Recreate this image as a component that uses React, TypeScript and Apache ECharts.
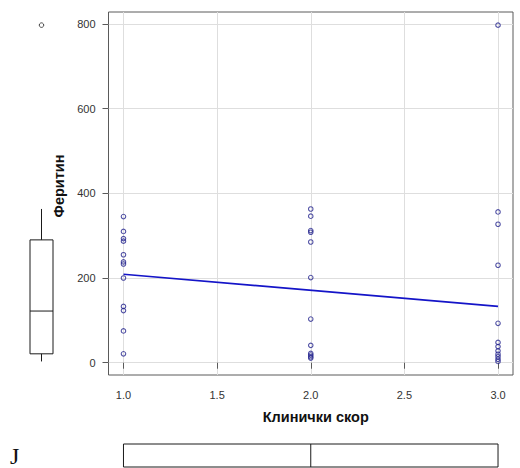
import React, { useEffect, useRef } from "react";
import * as echarts from "echarts";

// ---- data ----
const scoreLevels = [1, 2, 3];
const ferritinScore1 = [345, 310, 293, 287, 255, 238, 233, 200, 133, 123, 75, 21];
const ferritinScore2 = [363, 346, 312, 308, 285, 201, 103, 41, 22, 18, 14, 11];
const ferritinScore3 = [797, 356, 327, 230, 93, 48, 38, 28, 20, 14, 8, 3];
const fitX = [1, 3];
const fitY = [209, 133];
const xTicks = [1.0, 1.5, 2.0, 2.5, 3.0];
const yTicks = [0, 200, 400, 600, 800];
// min, q1, median, q3, max
const ferritinBoxStats = [3, 21, 122, 290, 363];
const ferritinOutliers = [797];
const scoreBoxStats = [1, 1, 2, 3, 3];
const xAxisTitle = "Клинички скор";
const yAxisTitle = "Феритин";
const panelLetter = "J";

const FONT = "'Liberation Sans', Arial, sans-serif";

export default function App() {
  const ref = useRef<HTMLDivElement>(null);

  useEffect(() => {
    if (!ref.current) return;
    const chart = echarts.init(ref.current, null, { renderer: "svg" });

    const groups = [ferritinScore1, ferritinScore2, ferritinScore3];
    const scatterData: number[][] = [];
    scoreLevels.forEach((s, i) => groups[i].forEach((v) => scatterData.push([s, v])));

    const boxStroke = { stroke: "#1a1a1a", fill: "none", lineWidth: 1 };

    const option: any = {
      animation: false,
      backgroundColor: "#ffffff",
      grid: [
        { left: 108.5, top: 12, width: 404.5, height: 363, show: true, borderColor: "#5a5a5a", borderWidth: 1, backgroundColor: "transparent" },
        { left: 20, top: 12, width: 43, height: 363, show: false },
        { left: 108.5, top: 444, width: 404.5, height: 23, show: false },
      ],
      xAxis: [
        {
          gridIndex: 0,
          type: "value",
          min: 0.92,
          max: 3.08,
          name: xAxisTitle,
          nameLocation: "middle",
          nameGap: 34,
          nameTextStyle: { fontFamily: FONT, fontSize: 14.5, fontWeight: "bold", color: "#111", padding: [0, 0, 0, 10] },
          axisLine: { show: false },
          axisTick: { show: true, inside: false, length: 6, lineStyle: { color: "#5a5a5a" }, customValues: xTicks },
          axisLabel: {
            customValues: xTicks,
            margin: 14,
            fontFamily: FONT,
            fontSize: 11,
            color: "#333",
            formatter: (v: number) => v.toFixed(1),
          },
          splitLine: { show: true, lineStyle: { color: "#dedede", width: 1 } },
        },
        { gridIndex: 1, type: "value", min: 0, max: 2, show: false },
        { gridIndex: 2, type: "value", min: 0.92, max: 3.08, show: false },
      ],
      yAxis: [
        {
          gridIndex: 0,
          type: "value",
          min: -29,
          max: 828,
          name: yAxisTitle,
          nameLocation: "middle",
          nameGap: 41,
          nameTextStyle: { fontFamily: FONT, fontSize: 14.5, fontWeight: "bold", color: "#111", padding: [0, 0, 0, 15] },
          axisLine: { show: false },
          axisTick: { show: true, inside: false, length: 6, lineStyle: { color: "#5a5a5a" }, customValues: yTicks },
          axisLabel: {
            customValues: yTicks,
            margin: 13,
            fontFamily: FONT,
            fontSize: 11,
            color: "#333",
          },
          splitLine: { show: true, lineStyle: { color: "#dedede", width: 1 } },
        },
        { gridIndex: 1, type: "value", min: -29, max: 828, show: false },
        { gridIndex: 2, type: "value", min: 0, max: 2, show: false },
      ],
      graphic: [
        {
          type: "text",
          left: 10,
          top: 444,
          style: {
            text: panelLetter,
            fontFamily: "'Liberation Serif', 'Times New Roman', serif",
            fontSize: 24,
            lineHeight: 23,
            fill: "#111",
          },
        },
      ],
      series: [
        {
          type: "line",
          xAxisIndex: 0,
          yAxisIndex: 0,
          data: fitX.map((x, i) => [x, fitY[i]]),
          symbol: "none",
          lineStyle: { color: "#1414c8", width: 1.6 },
          z: 3,
        },
        {
          type: "scatter",
          xAxisIndex: 0,
          yAxisIndex: 0,
          data: scatterData,
          symbol: "circle",
          symbolSize: 4.5,
          itemStyle: { color: "transparent", borderColor: "#26268f", borderWidth: 1.1 },
          z: 4,
        },
        {
          type: "custom",
          xAxisIndex: 1,
          yAxisIndex: 1,
          data: [[1, ...ferritinBoxStats]],
          encode: { x: 0, y: [1, 2, 3, 4, 5] },
          renderItem: (params: any, api: any) => {
            const x = api.value(0);
            const pts = [1, 2, 3, 4, 5].map((i) => api.coord([x, api.value(i)]));
            const cx = pts[0][0];
            const hw = 11.5;
            return {
              type: "group",
              children: [
                { type: "line", shape: { x1: cx, y1: pts[0][1], x2: cx, y2: pts[1][1] }, style: boxStroke },
                { type: "line", shape: { x1: cx, y1: pts[3][1], x2: cx, y2: pts[4][1] }, style: boxStroke },
                { type: "rect", shape: { x: cx - hw, y: pts[3][1], width: 2 * hw, height: pts[1][1] - pts[3][1] }, style: boxStroke },
                { type: "line", shape: { x1: cx - hw, y1: pts[2][1], x2: cx + hw, y2: pts[2][1] }, style: boxStroke },
              ],
            };
          },
        },
        {
          type: "scatter",
          xAxisIndex: 1,
          yAxisIndex: 1,
          data: ferritinOutliers.map((v) => [1, v]),
          symbol: "circle",
          symbolSize: 4.5,
          itemStyle: { color: "transparent", borderColor: "#1a1a1a", borderWidth: 1 },
        },
        {
          type: "custom",
          xAxisIndex: 2,
          yAxisIndex: 2,
          data: [[...scoreBoxStats, 1]],
          encode: { x: [0, 1, 2, 3, 4], y: 5 },
          renderItem: (params: any, api: any) => {
            const y = api.value(5);
            const pts = [0, 1, 2, 3, 4].map((i) => api.coord([api.value(i), y]));
            const cy = pts[0][1];
            const hh = 11.5;
            return {
              type: "group",
              children: [
                { type: "line", shape: { x1: pts[0][0], y1: cy, x2: pts[1][0], y2: cy }, style: boxStroke },
                { type: "line", shape: { x1: pts[3][0], y1: cy, x2: pts[4][0], y2: cy }, style: boxStroke },
                { type: "rect", shape: { x: pts[1][0], y: cy - hh, width: pts[3][0] - pts[1][0], height: 2 * hh }, style: boxStroke },
                { type: "line", shape: { x1: pts[2][0], y1: cy - hh, x2: pts[2][0], y2: cy + hh }, style: boxStroke },
              ],
            };
          },
        },
      ],
    };

    chart.setOption(option);
    return () => chart.dispose();
  }, []);

  return (
    <div
      ref={ref}
      style={{ position: "absolute", left: 0, top: 0, width: 520, height: 468 }}
    />
  );
}
